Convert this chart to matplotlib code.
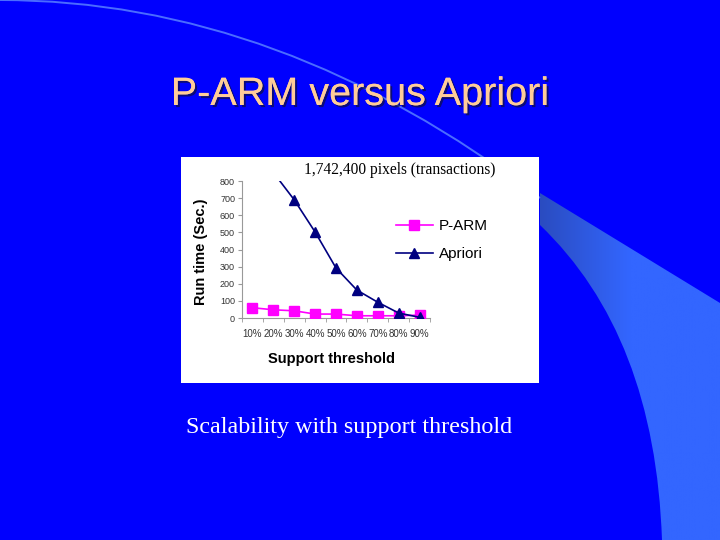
import numpy as np
import matplotlib
matplotlib.use("Agg")
import matplotlib.pyplot as plt
from matplotlib.path import Path
from matplotlib.patches import PathPatch, Rectangle
import matplotlib.patheffects as pe
from matplotlib.colors import LinearSegmentedColormap

# ---- data ----
categories = ["10%", "20%", "30%", "40%", "50%", "60%", "70%", "80%", "90%"]
parm = [60, 48, 42, 23, 23, 13, 13, 13, 17]
apriori = [1000, 850, 690, 502, 292, 163, 92, 29, 4]
y_ticks = [0, 100, 200, 300, 400, 500, 600, 700, 800]

title = "P-ARM versus Apriori"
subtitle = "1,742,400 pixels (transactions)"
caption = "Scalability with support threshold"
ylabel = "Run time (Sec.)"
xlabel = "Support threshold"

W, H = 720, 540
fig = plt.figure(figsize=(7.2, 5.4), dpi=100)
fig.patch.set_facecolor("#0000FE")

# ---- background decoration (pixel coords) ----
bg = fig.add_axes([0, 0, 1, 1])
bg.set_xlim(0, W)
bg.set_ylim(H, 0)
bg.axis("off")

band_verts = [(540, 193), (720, 303), (720, 540), (662, 540), (655, 335), (540, 225), (540, 193)]
band_codes = [Path.MOVETO, Path.LINETO, Path.LINETO, Path.LINETO, Path.CURVE3, Path.CURVE3, Path.CLOSEPOLY]
band = PathPatch(Path(band_verts, band_codes), facecolor="none", edgecolor="none")
bg.add_patch(band)
cmap = LinearSegmentedColormap.from_list("g", ["#2A4CC0", "#3366FF", "#3366FF"])
grad = np.tile(np.linspace(0, 1, 256), (2, 1))
im = bg.imshow(grad, extent=[540, 720, 540, 190], cmap=cmap, aspect="auto", zorder=1)
im.set_clip_path(band)
bg.set_xlim(0, W)
bg.set_ylim(H, 0)

arc = Path([(0, 0), (280, 0), (540, 198)], [Path.MOVETO, Path.CURVE3, Path.CURVE3])
bg.add_patch(PathPatch(arc, facecolor="none", edgecolor="#4A6CFF", lw=1.4, zorder=2))

# white chart box
bg.add_patch(Rectangle((181, 157), 358, 226, facecolor="white", edgecolor="none", zorder=3))

# ---- texts ----
fig.text(360 / W, 1 - 94 / H, title, ha="center", va="center", fontsize=28.5,
         family="Liberation Sans", color="#FFCC99",
         path_effects=[pe.withSimplePatchShadow(offset=(1.5, -1.5), shadow_rgbFace="#101040", alpha=0.7), pe.Normal()])
fig.text(400 / W, 1 - 170 / H, subtitle, ha="center", va="center", fontsize=11.2,
         family="Liberation Serif", color="black")
fig.text(349 / W, 1 - 428 / H, caption, ha="center", va="center", fontsize=17.4,
         family="Liberation Serif", color="white")
fig.text(201 / W, 1 - 252 / H, ylabel, ha="center", va="center", rotation=90,
         fontsize=10.5, family="Liberation Sans", weight="bold", color="black")
fig.text(331 / W, 1 - 359 / H, xlabel, ha="center", va="center",
         fontsize=10.5, family="Liberation Sans", weight="bold", color="black")

# ---- plot ----
ax = fig.add_axes([242 / W, 1 - 318 / H, (430 - 242) / W, (318 - 181) / H])
ax.set_facecolor("none")
x = np.arange(len(categories))
ax.plot(x, parm, color="#FF00FF", lw=1.2, marker="s", ms=7.5, mfc="#FF00FF", mec="#FF00FF",
        label="P-ARM", zorder=3)
ax.plot(x, apriori, color="#000080", lw=1.2, marker="^", ms=7, mfc="#000080", mec="#000080",
        label="Apriori", zorder=4)
ax.set_xlim(-0.5, len(categories) - 0.5)
ax.set_ylim(0, 800)
ax.set_yticks(y_ticks)
ax.set_yticklabels([str(v) for v in y_ticks], fontsize=6.5, family="Liberation Sans", color="#333333")
ax.set_xticks(x)
ax.set_xticklabels(categories, fontsize=7, family="Liberation Sans", color="#333333")
ax.set_xticks(np.arange(-0.5, len(categories)), minor=True)
ax.tick_params(axis="x", which="major", length=0, pad=8)
ax.tick_params(axis="x", which="minor", length=3, color="#999999", direction="out")
ax.tick_params(axis="y", length=3, color="#999999", direction="out", pad=2)
for s in ["top", "right"]:
    ax.spines[s].set_visible(False)
for s in ["left", "bottom"]:
    ax.spines[s].set_color("#999999")
    ax.spines[s].set_linewidth(0.8)

fig.legend(loc="center left", bbox_to_anchor=(396 / W, 1 - 240 / H), frameon=False,
           prop={"family": "Liberation Sans", "size": 11}, handlelength=2.4,
           handletextpad=0.4, labelspacing=0.9, borderaxespad=0, borderpad=0)

fig.savefig("out.png", dpi=100, facecolor=fig.get_facecolor())
